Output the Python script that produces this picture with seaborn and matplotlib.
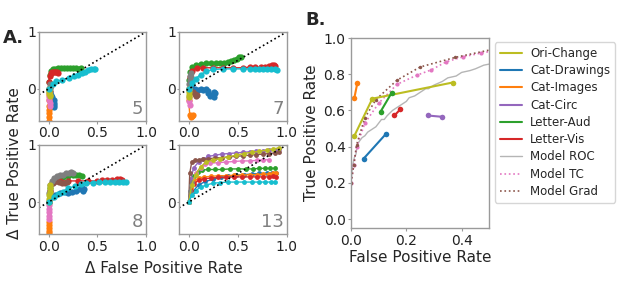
import numpy as np
import pandas as pd
import matplotlib
matplotlib.use("Agg")
import matplotlib.pyplot as plt
from matplotlib.lines import Line2D
import seaborn as sns

sns.set_style("white")
plt.rcParams.update({
    "font.family": ["DejaVu Sans"],
    "axes.edgecolor": "#9a9a9a",
    "axes.linewidth": 1.0,
    "xtick.color": "#9a9a9a",
    "ytick.color": "#9a9a9a",
    "xtick.labelcolor": "#222222",
    "ytick.labelcolor": "#222222",
    "xtick.major.size": 2.0,
    "ytick.major.size": 2.0,
    "xtick.bottom": True,
    "ytick.left": True,
})

# ---------------- Panel A : delta ROC per condition count ----------------
# one dict per panel and axis, keyed by the tab10 colour of the series
P5_FPR = {
    "tab:blue": [0, 0.01, 0.02, 0.03, 0.05, 0.06, 0.06, 0.05, 0.04],
    "tab:orange": [0, 0.0, 0.002, 0.0, 0.003, 0.0, 0.002, 0.0],
    "tab:green": [0, 0.005, 0.01, 0.02, 0.04, 0.07, 0.1, 0.13, 0.16, 0.19, 0.22, 0.25, 0.28, 0.31, 0.33],
    "tab:red": [0, 0.005, 0.01, 0.02, 0.03, 0.05, 0.07, 0.09, 0.1],
    "tab:brown": [0, 0.01, 0.015],
    "tab:pink": [0, 0.0, 0.005, 0.005, 0.01, 0.01],
    "tab:gray": [0, 0.01, 0.01],
    "tab:olive": [0, 0.0, 0.005, 0.01, 0.01],
    "tab:cyan": [0, 0.04, 0.08, 0.14, 0.21, 0.26, 0.3, 0.34, 0.37, 0.4, 0.43, 0.46, 0.48],
}
P5_TPR = {
    "tab:blue": [0, -0.05, -0.1, -0.15, -0.2, -0.24, -0.28, -0.31, -0.3],
    "tab:orange": [0, -0.1, -0.2, -0.3, -0.37, -0.43, -0.5, -0.56],
    "tab:green": [0, 0.12, 0.25, 0.31, 0.34, 0.35, 0.36, 0.37, 0.37, 0.36, 0.36, 0.36, 0.36, 0.35, 0.36],
    "tab:red": [0, 0.12, 0.22, 0.27, 0.29, 0.3, 0.3, 0.29, 0.28],
    "tab:brown": [0, 0.02, -0.03],
    "tab:pink": [0, -0.08, -0.15, -0.2, -0.25, -0.3],
    "tab:gray": [0, 0.04, 0.08],
    "tab:olive": [0, -0.03, -0.07, -0.1, -0.13],
    "tab:cyan": [0, 0.08, 0.13, 0.16, 0.19, 0.22, 0.24, 0.28, 0.3, 0.33, 0.34, 0.35, 0.34],
}

P7_FPR = {
    "tab:blue": [0, 0.03, 0.06, 0.09, 0.12, 0.15, 0.18, 0.2, 0.2, 0.22, 0.24, 0.26, 0.27, 0.26],
    "tab:orange": [0, 0.0, 0.01, 0.02, 0.03, 0.04],
    "tab:green": [0, 0.005, 0.01, 0.03, 0.07, 0.12, 0.18, 0.23, 0.28, 0.32, 0.36, 0.4, 0.43, 0.46, 0.49, 0.51, 0.53],
    "tab:red": [0, 0.01, 0.03, 0.08, 0.15, 0.25, 0.35, 0.45, 0.55, 0.62, 0.68, 0.74, 0.78, 0.82, 0.85, 0.87, 0.88],
    "tab:brown": [0, 0.02, 0.04, 0.06, 0.07, 0.08],
    "tab:pink": [0, 0.005, 0.005, 0.01],
    "tab:gray": [0, 0.005, 0.01, 0.015, 0.02, 0.02],
    "tab:olive": [0, 0.0, 0.005, 0.005],
    "tab:cyan": [0, 0.03, 0.07, 0.12, 0.18, 0.25, 0.35, 0.45, 0.55, 0.62, 0.68, 0.72, 0.76, 0.8, 0.84, 0.88, 0.9],
}
P7_TPR = {
    "tab:blue": [0, 0.02, 0.0, -0.02, -0.01, -0.02, 0.0, -0.04, -0.08, -0.12, -0.1, -0.05, -0.08, -0.14],
    "tab:orange": [0, -0.2, -0.45, -0.5, -0.48, -0.45],
    "tab:green": [0, 0.15, 0.3, 0.38, 0.42, 0.44, 0.45, 0.45, 0.46, 0.46, 0.46, 0.47, 0.49, 0.5, 0.52, 0.55, 0.56],
    "tab:red": [0, 0.2, 0.32, 0.36, 0.37, 0.37, 0.37, 0.37, 0.37, 0.38, 0.38, 0.38, 0.39, 0.4, 0.41, 0.41, 0.4],
    "tab:brown": [0, -0.03, -0.06, -0.09, -0.12, -0.11],
    "tab:pink": [0, -0.15, -0.22, -0.28],
    "tab:gray": [0, 0.08, 0.15, 0.22, 0.27, 0.2],
    "tab:olive": [0, -0.05, -0.1, -0.14],
    "tab:cyan": [0, 0.1, 0.18, 0.25, 0.31, 0.34, 0.35, 0.35, 0.35, 0.35, 0.34, 0.34, 0.34, 0.34, 0.34, 0.34, 0.33],
}

P8_FPR = {
    "tab:blue": [0, 0.03, 0.07, 0.12, 0.17, 0.2, 0.24, 0.28, 0.31, 0.34, 0.35, 0.36],
    "tab:orange": [0, 0.0, 0.0, 0.0, 0.0, 0.0],
    "tab:green": [0, 0.01, 0.05, 0.1, 0.15, 0.2, 0.25, 0.28, 0.31, 0.34],
    "tab:red": [0, 0.01, 0.03, 0.07, 0.12, 0.2, 0.3, 0.4, 0.5, 0.55, 0.6, 0.65, 0.7, 0.73, 0.75],
    "tab:brown": [0, 0.01, 0.04, 0.08, 0.11, 0.14, 0.17, 0.19],
    "tab:pink": [0, 0.0, 0.005, 0.005, 0.005, 0.0],
    "tab:gray": [0, 0.005, 0.01, 0.03, 0.06, 0.09, 0.12, 0.15, 0.18, 0.21, 0.23, 0.25],
    "tab:olive": [0, 0.0, 0.005, 0.01, 0.01, 0.015],
    "tab:cyan": [0, 0.05, 0.1, 0.15, 0.2, 0.27, 0.33, 0.38, 0.45, 0.52, 0.58, 0.63, 0.68, 0.72, 0.76, 0.79],
}
P8_TPR = {
    "tab:blue": [0, 0.08, 0.12, 0.15, 0.17, 0.15, 0.18, 0.2, 0.22, 0.25, 0.2, 0.23],
    "tab:orange": [0, -0.35, -0.4, -0.45, -0.5, -0.55],
    "tab:green": [0, 0.25, 0.38, 0.42, 0.44, 0.45, 0.47, 0.48, 0.47, 0.46],
    "tab:red": [0, 0.2, 0.33, 0.36, 0.37, 0.37, 0.37, 0.37, 0.37, 0.38, 0.38, 0.39, 0.4, 0.4, 0.39],
    "tab:brown": [0, 0.2, 0.33, 0.36, 0.35, 0.34, 0.33, 0.35],
    "tab:pink": [0, -0.06, -0.12, -0.18, -0.24, -0.3],
    "tab:gray": [0, 0.15, 0.3, 0.37, 0.42, 0.45, 0.47, 0.48, 0.5, 0.5, 0.52, 0.51],
    "tab:olive": [0, 0.06, 0.12, 0.18, 0.24, 0.3],
    "tab:cyan": [0, 0.08, 0.14, 0.18, 0.24, 0.28, 0.31, 0.33, 0.34, 0.35, 0.35, 0.35, 0.35, 0.35, 0.35, 0.35],
}

P13_FPR = {
    "tab:blue": [0, 0.05, 0.1, 0.17, 0.25, 0.33, 0.4, 0.48, 0.56, 0.64, 0.72, 0.8, 0.85, 0.89],
    "tab:orange": [0, 0.02, 0.05, 0.1, 0.16, 0.23, 0.3, 0.38, 0.46, 0.54, 0.62, 0.7, 0.76, 0.82, 0.86, 0.89],
    "tab:green": [0, 0.02, 0.05, 0.09, 0.14, 0.2, 0.27, 0.34, 0.42, 0.5, 0.58, 0.65, 0.72, 0.78, 0.83, 0.88],
    "tab:red": [0, 0.02, 0.05, 0.1, 0.16, 0.23, 0.3, 0.38, 0.46, 0.54, 0.62, 0.7, 0.76, 0.82, 0.86, 0.89],
    "tab:purple": [0, 0.02, 0.05, 0.1, 0.15, 0.2, 0.27, 0.34, 0.41, 0.48, 0.55, 0.62, 0.69, 0.76, 0.82, 0.88, 0.92],
    "tab:brown": [0, 0.01, 0.03, 0.06, 0.1, 0.15, 0.2, 0.27, 0.34, 0.41, 0.48, 0.55, 0.62, 0.69, 0.76, 0.82, 0.88, 0.92],
    "tab:pink": [0, 0.03, 0.07, 0.12, 0.17, 0.22, 0.3, 0.38, 0.46, 0.54, 0.62, 0.7, 0.76, 0.82],
    "tab:gray": [0, 0.01, 0.02, 0.03],
    "tab:olive": [0, 0.03, 0.07, 0.12, 0.18, 0.25, 0.32, 0.4, 0.48, 0.56, 0.64, 0.72, 0.8, 0.86, 0.92],
    "tab:cyan": [0, 0.03, 0.07, 0.12, 0.18, 0.25, 0.32, 0.4, 0.48, 0.56, 0.64, 0.72, 0.78, 0.84, 0.88],
}
P13_TPR = {
    "tab:blue": [0, 0.2, 0.3, 0.36, 0.4, 0.43, 0.45, 0.47, 0.48, 0.49, 0.5, 0.5, 0.51, 0.5],
    "tab:orange": [0, 0.25, 0.37, 0.42, 0.44, 0.45, 0.46, 0.46, 0.47, 0.47, 0.48, 0.48, 0.49, 0.49, 0.5, 0.5],
    "tab:green": [0, 0.3, 0.45, 0.53, 0.56, 0.57, 0.57, 0.57, 0.58, 0.58, 0.58, 0.58, 0.59, 0.59, 0.59, 0.59],
    "tab:red": [0, 0.2, 0.32, 0.38, 0.41, 0.42, 0.43, 0.43, 0.44, 0.44, 0.44, 0.44, 0.44, 0.44, 0.45, 0.44],
    "tab:purple": [0, 0.4, 0.6, 0.7, 0.75, 0.8, 0.82, 0.84, 0.85, 0.86, 0.87, 0.88, 0.89, 0.9, 0.91, 0.92, 0.93],
    "tab:brown": [0, 0.5, 0.7, 0.73, 0.74, 0.75, 0.76, 0.77, 0.78, 0.79, 0.8, 0.81, 0.82, 0.83, 0.84, 0.85, 0.86, 0.88],
    "tab:pink": [0, 0.3, 0.5, 0.6, 0.66, 0.68, 0.69, 0.7, 0.71, 0.72, 0.72, 0.73, 0.74, 0.74],
    "tab:gray": [0, 0.2, 0.3, 0.35],
    "tab:olive": [0, 0.3, 0.48, 0.62, 0.7, 0.74, 0.76, 0.79, 0.82, 0.85, 0.87, 0.89, 0.91, 0.93, 0.95],
    "tab:cyan": [0, 0.12, 0.2, 0.26, 0.3, 0.33, 0.34, 0.35, 0.35, 0.35, 0.35, 0.35, 0.35, 0.35, 0.35],
}

# ---------------- Panel B : experiments vs model ROC ----------------
TASKS = ["Ori-Change", "Cat-Drawings", "Cat-Images", "Cat-Circ", "Letter-Aud", "Letter-Vis"]
TASK_COLORS = ["tab:olive", "tab:blue", "tab:orange", "tab:purple", "tab:green", "tab:red"]
TASK_FPR = [
    [0.012, 0.077, 0.367],
    [0.045, 0.126],
    [0.012, 0.023],
    [0.277, 0.328],
    [0.107, 0.147],
    [0.157, 0.178],
]
TASK_TPR = [
    [0.46, 0.665, 0.754],
    [0.333, 0.47],
    [0.67, 0.754],
    [0.572, 0.565],
    [0.594, 0.698],
    [0.572, 0.606],
]

ROC_FPR = [0, 0, 0.003, 0.006, 0.012, 0.018, 0.022, 0.03, 0.04, 0.05, 0.06, 0.07, 0.08, 0.09, 0.1,
           0.11, 0.12, 0.13, 0.15, 0.16, 0.18, 0.2, 0.21, 0.23, 0.25, 0.27, 0.28, 0.3, 0.33, 0.35,
           0.38, 0.4, 0.43, 0.45, 0.48, 0.5]
ROC_TPR = [0, 0.2, 0.26, 0.3, 0.34, 0.36, 0.41, 0.43, 0.45, 0.46, 0.48, 0.49, 0.5, 0.51, 0.53,
           0.55, 0.55, 0.57, 0.6, 0.61, 0.63, 0.65, 0.67, 0.68, 0.7, 0.72, 0.72, 0.74, 0.76, 0.78,
           0.79, 0.81, 0.82, 0.83, 0.85, 0.856]
TC_FPR = [0.0, 0.01, 0.02, 0.05, 0.1, 0.166, 0.237, 0.29, 0.345, 0.405, 0.47, 0.52]
TC_TPR = [0.2, 0.3, 0.4, 0.53, 0.64, 0.744, 0.794, 0.824, 0.869, 0.896, 0.917, 0.93]
GRAD_FPR = [0.0, 0.01, 0.02, 0.05, 0.09, 0.166, 0.25, 0.377, 0.52]
GRAD_TPR = [0.2, 0.3, 0.41, 0.56, 0.66, 0.767, 0.84, 0.893, 0.94]

ORDER = ["tab:blue", "tab:orange", "tab:green", "tab:red", "tab:purple",
         "tab:brown", "tab:pink", "tab:gray", "tab:olive", "tab:cyan"]


def draw_series(ax, xs, ys, color, **kw):
    df = pd.DataFrame({"x": xs, "y": ys})
    sns.lineplot(data=df, x="x", y="y", ax=ax, color=color, sort=False,
                 estimator=None, **kw)


fig = plt.figure(figsize=(6.17, 2.97), dpi=100)

panels = [
    (P5_FPR, P5_TPR, "5", [0.063, 0.593, 0.174, 0.300]),
    (P7_FPR, P7_TPR, "7", [0.290, 0.593, 0.175, 0.300]),
    (P8_FPR, P8_TPR, "8", [0.063, 0.212, 0.174, 0.300]),
    (P13_FPR, P13_TPR, "13", [0.290, 0.212, 0.175, 0.300]),
]
for fpr, tpr, num, rect in panels:
    ax = fig.add_axes(rect)
    for c in ORDER:
        if c in fpr:
            ms = 4.5 if num != "13" else 3.5
            draw_series(ax, fpr[c], tpr[c], c, marker="o", markersize=ms,
                        linewidth=1.0, markeredgewidth=0, markeredgecolor=c)
    ax.plot([-0.1, 1.0], [-0.1, 1.0], color="k", linestyle=":", linewidth=1.2)
    ax.set_xlim(-0.1, 1.0)
    ax.set_ylim(-0.56, 1.0)
    ax.set_xticks([0.0, 0.5, 1.0])
    ax.set_xticklabels(["0.0", "0.5", "1.0"])
    ax.set_yticks([0, 1])
    ax.set_yticklabels(["0", "1"])
    ax.tick_params(axis="x", labelsize=10, pad=2)
    ax.tick_params(axis="y", labelsize=10, pad=0.5, length=1.5)
    ax.set_xlabel("")
    ax.set_ylabel("")
    ax.text(0.97, 0.03, num, transform=ax.transAxes, ha="right", va="bottom",
            fontsize=13, color="#808080")

fig.text(0.024, 0.45, "\u0394 True Positive Rate", rotation=90, ha="center",
         va="center", fontsize=11)
fig.text(0.265, 0.095, "\u0394 False Positive Rate", ha="center", va="center",
         fontsize=11)
fig.text(0.005, 0.855, "A.", fontsize=13, fontweight="bold")
fig.text(0.495, 0.915, "B.", fontsize=13, fontweight="bold")

# panel B
axb = fig.add_axes([0.569, 0.232, 0.224, 0.640])
draw_series(axb, ROC_FPR, ROC_TPR, "#b5b5b5", linewidth=1.0)
draw_series(axb, TC_FPR, TC_TPR, "tab:pink", linestyle=":", linewidth=1.2,
            marker="o", markersize=3, markeredgewidth=0, markeredgecolor="tab:pink")
draw_series(axb, GRAD_FPR, GRAD_TPR, "tab:brown", linestyle=":", linewidth=1.2,
            marker="o", markersize=2.5, markeredgewidth=0, markeredgecolor="tab:brown")
for name, c, xs, ys in zip(TASKS, TASK_COLORS, TASK_FPR, TASK_TPR):
    draw_series(axb, xs, ys, c, linewidth=1.5, marker="o", markersize=4,
                markeredgewidth=0, markeredgecolor=c)
axb.set_xlim(0, 0.5)
axb.set_ylim(-0.05, 1.0)
axb.set_xticks([0.0, 0.2, 0.4])
axb.set_yticks([0.0, 0.2, 0.4, 0.6, 0.8, 1.0])
axb.tick_params(labelsize=10, pad=2)
axb.set_xlabel("False Positive Rate", fontsize=11, labelpad=2)
axb.set_ylabel("True Positive Rate", fontsize=11, labelpad=3)

handles = [Line2D([], [], color=c, linewidth=1.5) for c in TASK_COLORS]
handles += [Line2D([], [], color="#b5b5b5", linewidth=1.0),
            Line2D([], [], color="tab:pink", linestyle=":", linewidth=1.2),
            Line2D([], [], color="tab:brown", linestyle=":", linewidth=1.2)]
labels = TASKS + ["Model ROC", "Model TC", "Model Grad"]
fig.legend(handles, labels, loc="upper left", bbox_to_anchor=(0.802, 0.858),
           fontsize=8.5, labelspacing=0.36, handlelength=1.9, handletextpad=0.7,
           frameon=True, borderaxespad=0.0, borderpad=0.4)

fig.savefig("out.png", dpi=100)
